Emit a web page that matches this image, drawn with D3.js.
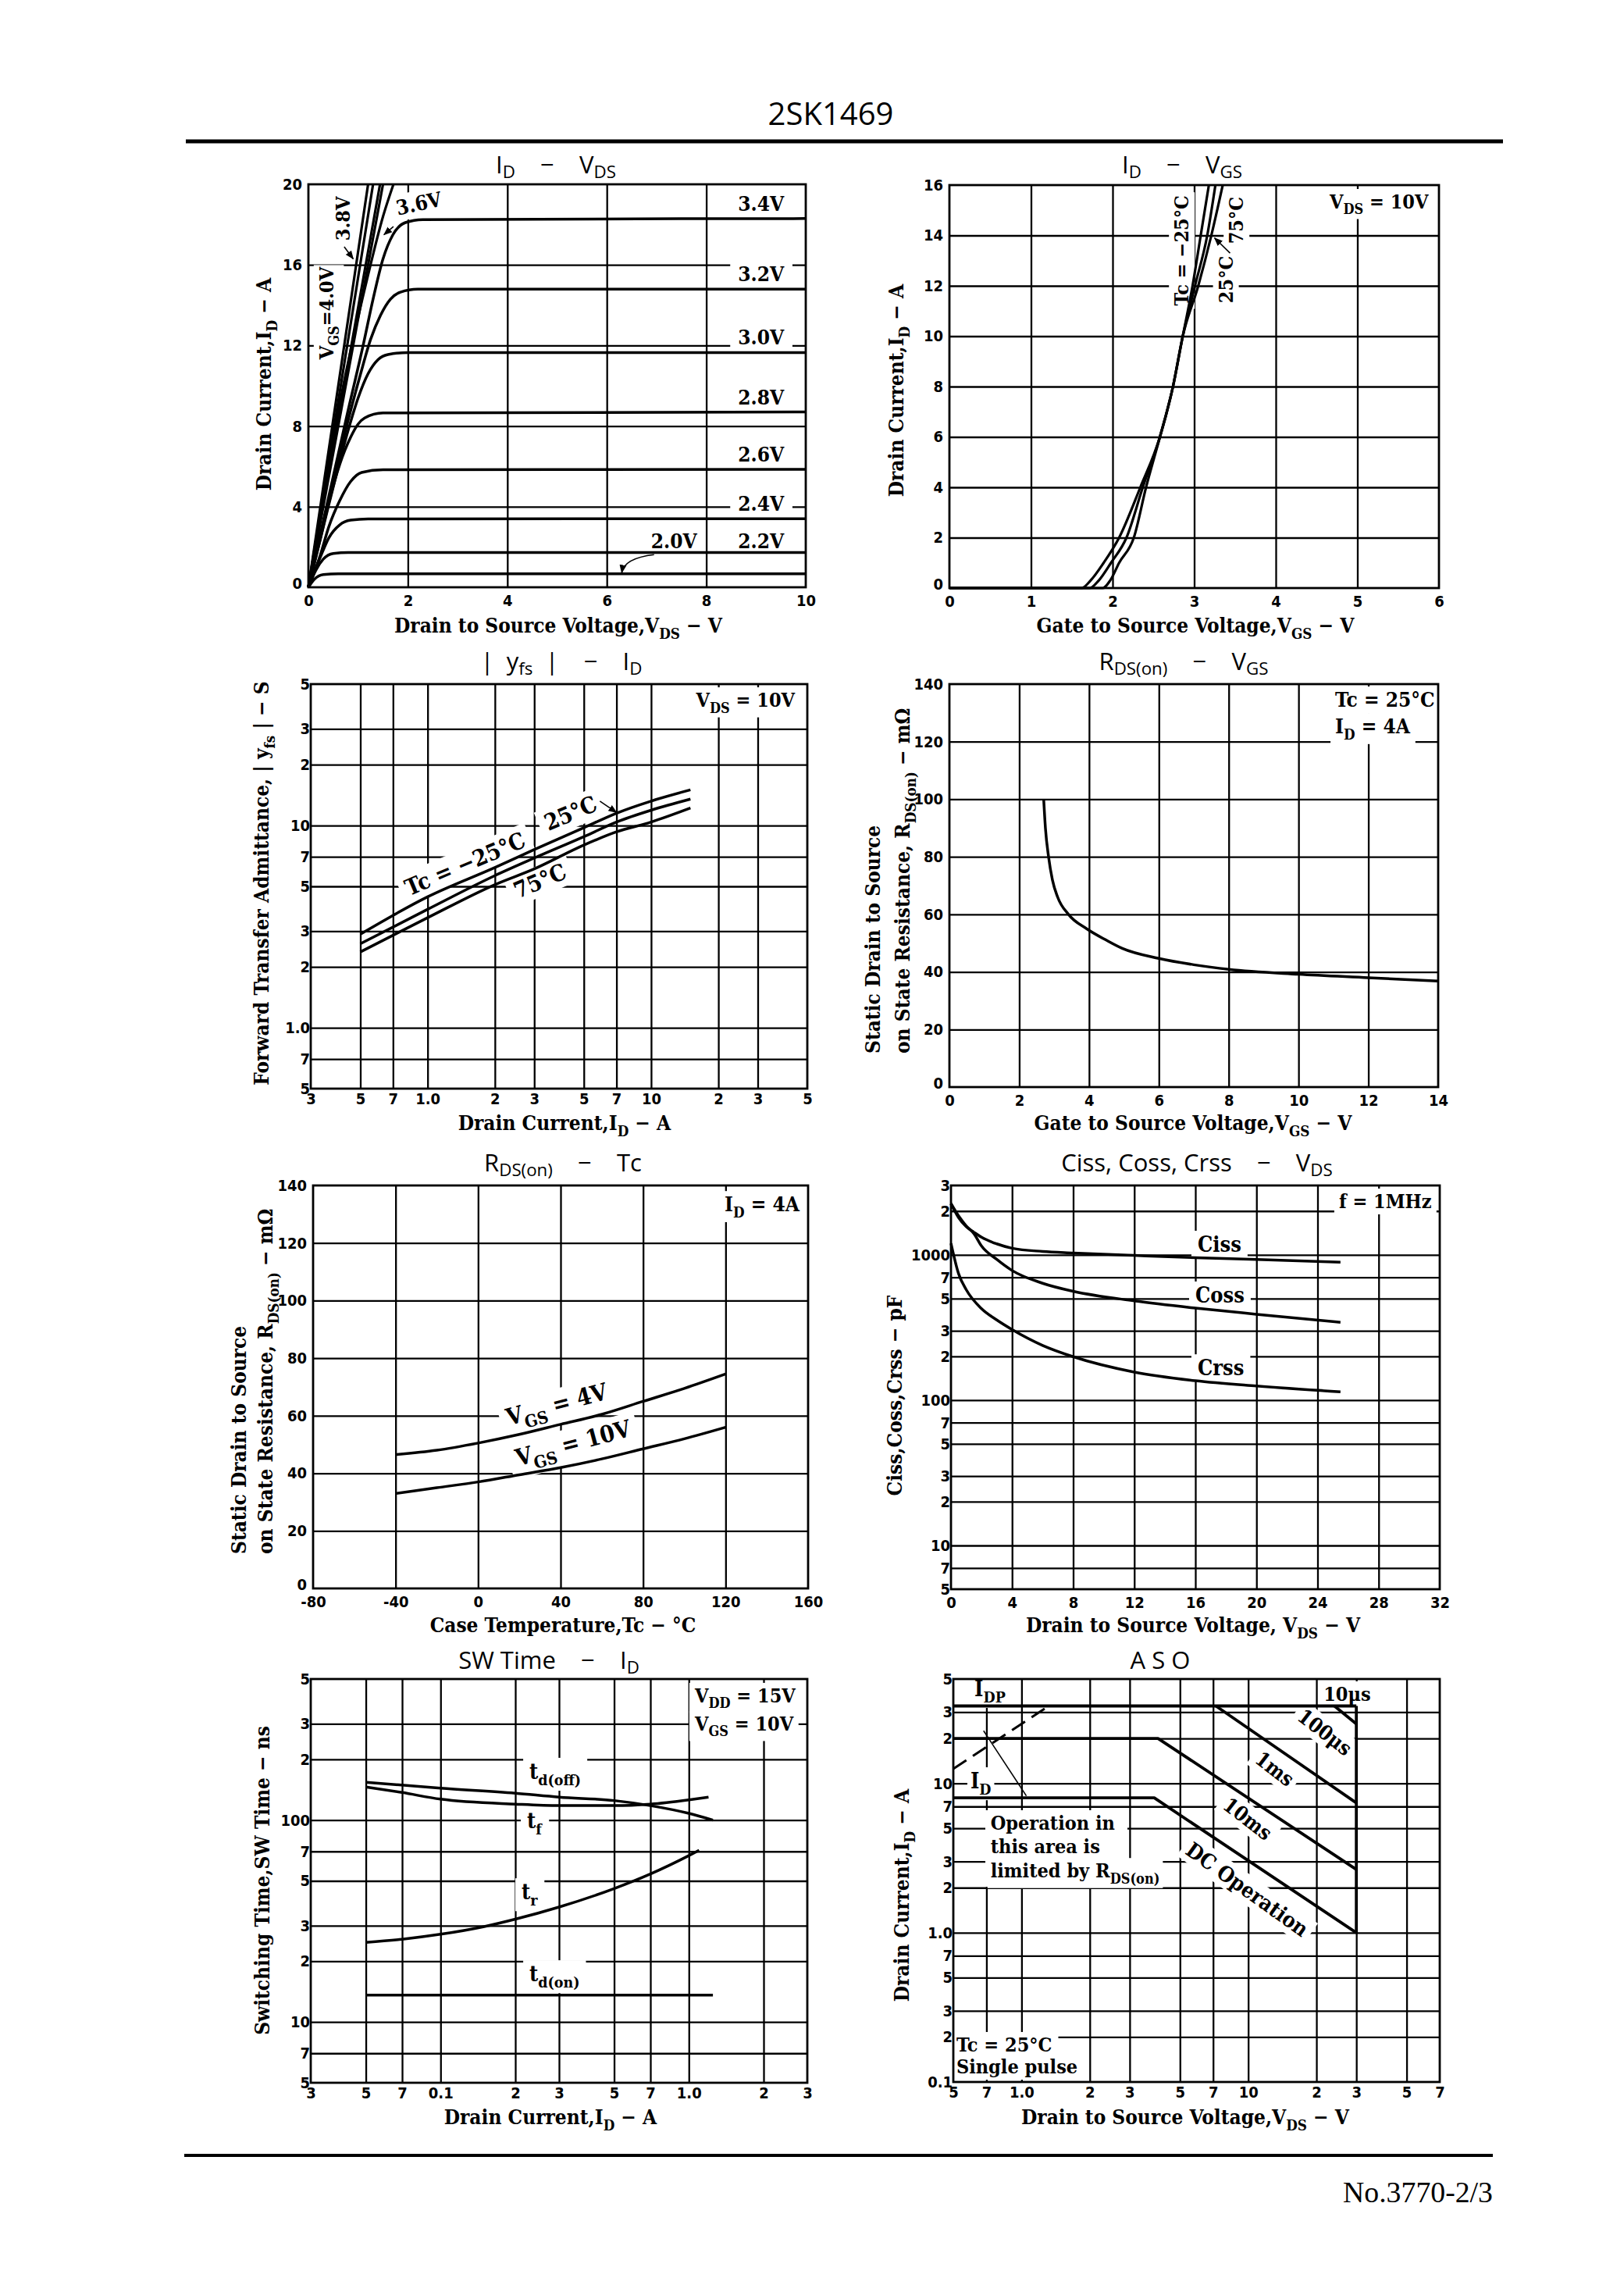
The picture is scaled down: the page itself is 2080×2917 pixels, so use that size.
<!DOCTYPE html>
<html>
<head>
<meta charset="utf-8">
<script src="https://cdn.jsdelivr.net/npm/d3@7"></script>
<style>
  body { margin: 0; background: #fff; }
  text { white-space: pre; }
</style>
</head>
<body>
<script>
// ---------- data ----------

// I_D - V_DS  (points are [V_DS, I_D])
const idVdsLabels = ["3.4V", "3.2V", "3.0V", "2.8V", "2.6V", "2.4V", "2.2V", "2.0V"];
const vgs34 = [[0,0],[0.4,4.4],[0.8,8.8],[1.1,12.0],[1.3,14.3],[1.5,16.3],[1.7,17.5],[1.95,18.1],[2.3,18.25],[10,18.3]];
const vgs32 = [[0,0],[0.4,4.2],[0.8,8.3],[1.05,10.6],[1.25,12.3],[1.45,13.5],[1.65,14.3],[1.85,14.65],[2.2,14.8],[10,14.8]];
const vgs30 = [[0,0],[0.4,4.0],[0.8,7.8],[1.0,9.4],[1.2,10.6],[1.4,11.3],[1.6,11.55],[2.0,11.65],[10,11.65]];
const vgs28 = [[0,0],[0.24,2.4],[0.41,4.2],[0.63,6.1],[0.85,7.45],[1.0,8.1],[1.13,8.4],[1.5,8.65],[10,8.7]];
const vgs26 = [[0,0],[0.24,1.6],[0.41,3.0],[0.63,4.3],[0.85,5.25],[1.07,5.7],[1.5,5.83],[10,5.85]];
const vgs24 = [[0,0],[0.24,1.5],[0.41,2.45],[0.63,3.1],[0.85,3.33],[1.2,3.39],[10,3.4]];
const vgs22 = [[0,0],[0.15,0.85],[0.3,1.4],[0.5,1.68],[0.8,1.72],[10,1.72]];
const vgs20 = [[0,0],[0.12,0.4],[0.3,0.63],[0.6,0.67],[10,0.67]];
const idVdsCurves = [vgs34, vgs32, vgs30, vgs28, vgs26, vgs24, vgs22, vgs20];
// steep lines of V_GS = 4.0V ... 3.6V that leave the top of the plot
const steep40 = [[0,0],[0.6,10],[1.2,20]];
const steep39 = [[0,0],[0.65,10],[1.3,20]];
const steep38 = [[0,0],[0.72,10],[1.44,20]];
const steep37 = [[0,0],[0.75,10],[1.5,20]];
const steep36 = [[0,0],[0.62,9],[1.2,15.5],[1.5,18.4],[1.71,20]];
const steepCurves = [steep40, steep39, steep38, steep37, steep36];

// I_D - V_GS  ([V_GS, I_D])
const vgsTcM25 = [[0,0],[1.88,0],[1.97,0.3],[2.08,1],[2.26,2],[2.41,4],[2.58,6],[2.74,8],[2.86,10],[2.98,12],[3.08,14],[3.18,16]];
const vgsTc25 = [[0,0],[1.72,0],[1.83,0.3],[1.98,1],[2.17,2],[2.37,4],[2.58,6],[2.74,8],[2.86,10],[3.01,12],[3.16,14],[3.26,16]];
const vgsTc75 = [[0,0],[1.62,0],[1.73,0.3],[1.89,1],[2.08,2],[2.34,4],[2.58,6],[2.74,8],[2.86,10],[3.05,12],[3.21,14],[3.35,16]];

// |yfs| - I_D  ([I_D, |yfs|])
const yfsM25 = [[0.5,2.9],[1,4.44],[2,6.2],[3,7.6],[5,9.75],[7,11.5],[10,13.2],[15,15]];
const yfs25 = [[0.5,2.6],[1,3.85],[2,5.65],[3,6.9],[5,8.8],[7,10.4],[10,11.9],[15,13.5]];
const yfs75 = [[0.5,2.37],[1,3.5],[2,5.1],[3,6.1],[5,8.0],[7,9.3],[10,10.4],[15,12.2]];
const logTicks = ["3","5","7","1.0","2","3","5","7","10","2","3","5"];
const yfsXTicks = [0.3,0.5,0.7,1,2,3,5,7,10,20,30,50];
const yfsYTicks = [0.5,0.7,1,2,3,5,7,10,20,30,50];
const yfsYLabels = ["5","7","1.0","2","3","5","7","10","2","3","5"];

// R_DS(on) - V_GS  ([V_GS, mOhm])
const rdsVgs = [[2.7,100],[2.75,90],[2.84,80],[2.95,72],[3.1,66],[3.41,60],[3.93,55],[4.5,51],[4.95,48.2],[6,44.7],[7,42.5],[8,40.9],[10,39.2],[12,38],[14,36.8]];

// R_DS(on) - Tc  ([Tc, mOhm])
const rdsTcVgs4 = [[-40,46.5],[-20,48],[0,50.5],[20,53.5],[40,57],[60,60.5],[80,65],[100,69.5],[120,74.5]];
const rdsTcVgs10 = [[-40,33],[-20,35],[0,37],[20,39.5],[40,42],[60,45],[80,48.5],[100,52],[120,56]];

// Ciss, Coss, Crss - V_DS  ([V_DS, pF])
const ciss = [[0,2250],[0.5,1800],[1,1560],[1.5,1430],[2,1320],[3,1190],[4,1110],[6,1055],[8,1030],[12,990],[16,955],[20,930],[25.5,890]];
const coss = [[0,2250],[0.5,1850],[1,1580],[1.5,1400],[2,1150],[3,930],[4,780],[6,637],[8,561],[12,482],[16,430],[20,390],[25.5,343]];
const crss = [[0,1200],[0.5,740],[1,575],[2,426],[3,356],[4,306],[6,238],[8,199],[12,156],[16,136],[20,125],[25.5,114]];
const capYTicks = [5,7,10,20,30,50,70,100,200,300,500,700,1000,2000,3000];
const capYLabels = ["5","7","10","2","3","5","7","100","2","3","5","7","1000","2","3"];

// SW time - I_D  ([I_D, ns])
const tdOff = [[0.05,154],[0.1,144],[0.2,136],[0.3,130],[0.5,125],[0.7,118],[1.0,108],[1.25,100]];
const tFall = [[0.05,146],[0.07,137],[0.1,127],[0.2,120],[0.3,118],[0.5,118],[0.7,120],[1.0,126],[1.2,130]];
const tRise = [[0.05,24.8],[0.07,25.7],[0.1,27.2],[0.15,29.7],[0.2,32.3],[0.3,37.1],[0.5,45.8],[0.7,54.1],[1.0,66.7],[1.1,70.9]];
const tdOn = [[0.05,13.6],[1.25,13.6]];
const swXTicks = [0.03,0.05,0.07,0.1,0.2,0.3,0.5,0.7,1,2,3];
const swXLabels = ["3","5","7","0.1","2","3","5","7","1.0","2","3"];
const swYTicks = [5,7,10,20,30,50,70,100,200,300,500];
const swYLabels = ["5","7","10","2","3","5","7","100","2","3","5"];

// ASO  ([V_DS, I_D])
const asoIdp = [[0.5,33],[30,33]];
const aso10us = [[24,33],[30,25]];
const aso1ms = [[7.2,33],[30,7.4]];
const aso10ms = [[0.5,20],[4.0,20],[30,2.65]];
const asoDC = [[0.5,8],[3.85,8],[30,1.0]];
const asoVdss = [[30,33],[30,1.0]];
const asoRds = [[0.5,12.5],[1.32,33]];
const asoXTicks = [0.5,0.7,1,2,3,5,7,10,20,30,50,70];
const asoXLabels = ["5","7","1.0","2","3","5","7","10","2","3","5","7"];
const asoYTicks = [0.1,0.2,0.3,0.5,0.7,1,2,3,5,7,10,20,30,50];
const asoYLabels = ["0.1","2","3","5","7","1.0","2","3","5","7","10","2","3","5"];

// ---------- drawing ----------
const serif = "'DejaVu Serif Condensed','DejaVu Serif',serif";
const numFont = "'DejaVu Sans Condensed','DejaVu Sans',sans-serif";
const titleFont = "'Open Sans','DejaVu Sans',sans-serif";

const svg = d3.select("body").append("svg")
    .attr("width", 2080).attr("height", 2917)
    .style("display", "block");
svg.append("rect").attr("width", 2080).attr("height", 2917).attr("fill", "#fff");

svg.append("defs").append("marker")
    .attr("id", "arr").attr("viewBox", "0 0 10 10")
    .attr("refX", 9).attr("refY", 5)
    .attr("markerWidth", 7).attr("markerHeight", 7)
    .attr("orient", "auto")
  .append("path").attr("d", "M0,1 L10,5 L0,9 z").attr("fill", "#000");

// text with subscripts: plain strings, or [str] for a subscript
const rich = (t, parts, fs, shift = 0.3) => {
    let down = false;
    parts.forEach(p => {
        const sub = Array.isArray(p);
        const ts = t.append("tspan").text(sub ? p[0] : p);
        if (sub) {
            ts.attr("font-size", fs * 0.72);
            if (!down) { ts.attr("dy", fs * shift); down = true; }
        } else if (down) {
            ts.attr("dy", -fs * shift);
            down = false;
        }
    });
};

// o.box = white padding behind the text, so grid lines stop short of it
const label = (parent, x, y, parts, o = {}) => {
    const fs = o.fs || 24;
    const g = parent.append("g")
        .attr("transform", `translate(${x},${y}) rotate(${o.rot || 0})`);
    const t = g.append("text")
        .attr("font-family", o.font || serif)
        .attr("font-size", fs)
        .attr("font-weight", o.weight || "bold")
        .attr("text-anchor", o.anchor || "middle")
        .attr("fill", "#000");
    if (o.mid) t.attr("dy", "0.35em");
    rich(t, parts, fs, o.sub);
    if (o.box) {
        const b = t.node().getBBox();
        g.insert("rect", "text")
            .attr("x", b.x - o.box).attr("y", b.y - 2)
            .attr("width", b.width + 2 * o.box).attr("height", b.height + 4)
            .attr("fill", "#fff");
    }
    return t;
};

const drawChart = c => {
    const [x0, x1, y0, y1] = c.box;
    const g = svg.append("g");
    const x = (c.xLog ? d3.scaleLog() : d3.scaleLinear()).domain(c.xDomain).range([x0, x1]);
    const y = (c.yLog ? d3.scaleLog() : d3.scaleLinear()).domain(c.yDomain).range([y1, y0]);

    const grid = g.append("g");
    grid.append("g").attr("transform", `translate(0,${y1})`)
        .call(d3.axisBottom(x).tickValues(c.xGrid).tickSize(-(y1 - y0)).tickFormat(""));
    grid.append("g").attr("transform", `translate(${x0},0)`)
        .call(d3.axisLeft(y).tickValues(c.yGrid).tickSize(-(x1 - x0)).tickFormat(""));
    grid.selectAll(".domain").remove();
    grid.selectAll("line").attr("stroke", "#000").attr("stroke-width", 2.3);

    const labels = g.append("g");
    const curves = g.append("g");

    g.append("rect")
        .attr("x", x0).attr("y", y0).attr("width", x1 - x0).attr("height", y1 - y0)
        .attr("fill", "none").attr("stroke", "#000").attr("stroke-width", 2.8);

    const xt = g.append("g").attr("transform", `translate(0,${y1})`)
        .call(d3.axisBottom(x).tickValues(c.xTicks).tickFormat((d, i) => c.xLabels[i])
            .tickSize(0).tickPadding(c.xLog ? 6 : 10));
    const yt = g.append("g").attr("transform", `translate(${x0},0)`)
        .call(d3.axisLeft(y).tickValues(c.yTicks).tickFormat((d, i) => c.yLabels[i])
            .tickSize(0).tickPadding(c.yLog ? 1 : 8));
    [xt, yt].forEach(a => {
        a.select(".domain").remove();
        a.selectAll("text")
            .attr("font-family", numFont).attr("font-size", 20)
            .attr("font-weight", "bold").attr("fill", "#000");
    });
    // bottom-left y label sits a little higher so it clears the x label
    if (!c.yLog) yt.selectAll("text").filter((d, i) => i === 0).attr("dy", "0.05em");

    // title, axis names
    label(svg, c.title[0], c.title[1], c.title[2], { font: titleFont, fs: 31, weight: "normal", sub: 0.18 });
    label(svg, c.xName[0], c.xName[1], c.xName[2], { fs: 26 });
    c.yName.forEach(n => label(svg, n[0], n[1], n[2], { fs: 26, rot: -90, anchor: n[3] || "middle" }));

    return { g, x, y, labels, curves };
};

const curve = (c, data, o = {}) => c.curves.append("path")
    .datum(data)
    .attr("d", d3.line().x(d => c.x(d[0])).y(d => c.y(d[1])).curve(o.curve || d3.curveMonotoneX))
    .attr("fill", "none")
    .attr("stroke", "#000")
    .attr("stroke-width", o.width || 3.5)
    .attr("stroke-dasharray", o.dash || null)
    .attr("stroke-linejoin", "round");

const leader = (c, a, b, arrow) => c.curves.append("line")
    .attr("x1", c.x(a[0])).attr("y1", c.y(a[1]))
    .attr("x2", c.x(b[0])).attr("y2", c.y(b[1]))
    .attr("stroke", "#000").attr("stroke-width", 1.6)
    .attr("marker-end", arrow ? "url(#arr)" : null);

const range = (a, b, s) => d3.range(a, b + s / 2, s);

// ---------- header / footer ----------
label(svg, 1064, 160, ["2SK1469"], { font: titleFont, fs: 40, weight: "normal" });
svg.append("line").attr("x1", 238).attr("x2", 1925).attr("y1", 181).attr("y2", 181)
    .attr("stroke", "#000").attr("stroke-width", 5);
svg.append("line").attr("x1", 236).attr("x2", 1912).attr("y1", 2760).attr("y2", 2760)
    .attr("stroke", "#000").attr("stroke-width", 4);
label(svg, 1912, 2820, ["No.3770-2/3"], { font: "'Liberation Serif',serif", fs: 38, weight: "normal", anchor: "end" })
    .attr("textLength", 192).attr("lengthAdjust", "spacingAndGlyphs");

// ---------- 1: I_D - V_DS ----------
const c1 = drawChart({
    box: [395, 1032, 236, 752],
    xDomain: [0, 10], yDomain: [0, 20],
    xGrid: range(2, 8, 2), yGrid: range(4, 16, 4),
    xTicks: range(0, 10, 2), xLabels: range(0, 10, 2).map(String),
    yTicks: range(0, 20, 4), yLabels: range(0, 20, 4).map(String),
    title: [712, 222, ["I", ["D"], "    −    V", ["DS"]]],
    xName: [715, 810, ["Drain to Source Voltage,V", ["DS"], " − V"]],
    yName: [[347, 492, ["Drain Current,I", ["D"], " − A"]]]
});
idVdsCurves.forEach(d => curve(c1, d));
steepCurves.forEach(d => curve(c1, d, { width: 3.2 }));
idVdsLabels.forEach((t, i) => {
    const last = idVdsCurves[i][idVdsCurves[i].length - 1][1];
    if (i < 7) label(c1.labels, c1.x(9.1), c1.y(last) - (i === 6 ? 6 : 10), [t], { fs: 26, box: 10 });
});
label(c1.labels, c1.x(7.35), c1.y(1.72) - 6, [idVdsLabels[7]], { fs: 26, box: 8 });
c1.curves.append("path")
    .attr("d", `M${c1.x(6.95)},${c1.y(1.62)} Q${c1.x(6.35)},${c1.y(1.45)} ${c1.x(6.3)},${c1.y(0.72)}`)
    .attr("fill", "none").attr("stroke", "#000").attr("stroke-width", 1.6).attr("marker-end", "url(#arr)");
label(c1.labels, c1.x(0.5), c1.y(13.6), ["V", ["GS"], "=4.0V"], { fs: 25, rot: -90, box: 2 });
label(c1.labels, c1.x(0.83), c1.y(18.3), ["3.8V"], { fs: 25, rot: -90, box: 2 });
label(c1.labels, c1.x(2.25), c1.y(18.7), ["3.6V"], { fs: 26, rot: -12, box: 2 });
leader(c1, [1.71, 17.9], [1.52, 17.5], true);
leader(c1, [0.72, 16.9], [0.9, 16.3], true);

// ---------- 2: I_D - V_GS ----------
const c2 = drawChart({
    box: [1216, 1843, 237, 753],
    xDomain: [0, 6], yDomain: [0, 16],
    xGrid: range(1, 5, 1), yGrid: range(2, 14, 2),
    xTicks: range(0, 6, 1), xLabels: range(0, 6, 1).map(String),
    yTicks: range(0, 16, 2), yLabels: range(0, 16, 2).map(String),
    title: [1514, 222, ["I", ["D"], "    −    V", ["GS"]]],
    xName: [1531, 810, ["Gate to Source Voltage,V", ["GS"], " − V"]],
    yName: [[1157, 500, ["Drain Current,I", ["D"], " − A"]]]
});
[vgsTcM25, vgsTc25, vgsTc75].forEach(d => curve(c2, d, { width: 3.2 }));
label(c2.labels, c2.x(4.66), c2.y(15.07), ["V", ["DS"], " = 10V"], { fs: 25, anchor: "start", box: 6 });
label(c2.labels, c2.x(2.93), c2.y(13.4), ["Tc = −25°C"], { fs: 25, rot: -90, box: 4 });
label(c2.labels, c2.x(3.6), c2.y(14.6), ["75°C"], { fs: 25, rot: -90, box: 4 });
label(c2.labels, c2.x(3.47), c2.y(12.25), ["25°C"], { fs: 25, rot: -90, box: 4 });
leader(c2, [3.44, 13.3], [3.25, 13.9], true);

// ---------- 3: |yfs| - I_D ----------
const c3 = drawChart({
    box: [398, 1034, 876, 1394],
    xLog: true, yLog: true,
    xDomain: [0.3, 50], yDomain: [0.5, 50],
    xGrid: yfsXTicks.slice(1, -1), yGrid: yfsYTicks.slice(1, -1),
    xTicks: yfsXTicks, xLabels: logTicks,
    yTicks: yfsYTicks, yLabels: yfsYLabels,
    title: [719, 858, ["|  y", ["fs"], "  |    −    I", ["D"]]],
    xName: [723, 1447, ["Drain Current,I", ["D"], " − A"]],
    yName: [[344, 1131, ["Forward Transfer Admittance, | y", ["fs"], " | − S"]]]
});
[yfsM25, yfs25, yfs75].forEach(d => curve(c3, d));
label(c3.labels, c3.x(15.9), c3.y(38.6), ["V", ["DS"], " = 10V"], { fs: 25, anchor: "start", box: 6 });
label(c3.labels, c3.x(1.47), c3.y(6.47), ["Tc = −25°C"], { fs: 29, rot: -23, mid: true, box: 8 });
label(c3.labels, c3.x(4.36), c3.y(11.5), ["25°C"], { fs: 29, rot: -23, mid: true, box: 8 });
label(c3.labels, c3.x(3.18), c3.y(5.32), ["75°C"], { fs: 29, rot: -23, mid: true, box: 8 });
leader(c3, [5.9, 13.2], [7.0, 11.6], true);

// ---------- 4: R_DS(on) - V_GS ----------
const c4 = drawChart({
    box: [1216, 1842, 876, 1392],
    xDomain: [0, 14], yDomain: [0, 140],
    xGrid: range(2, 12, 2), yGrid: range(20, 120, 20),
    xTicks: range(0, 14, 2), xLabels: range(0, 14, 2).map(String),
    yTicks: range(0, 140, 20), yLabels: range(0, 140, 20).map(String),
    title: [1516, 858, ["R", ["DS(on)"], "    −    V", ["GS"]]],
    xName: [1528, 1447, ["Gate to Source Voltage,V", ["GS"], " − V"]],
    yName: [
        [1127, 1349, ["Static Drain to Source"], "start"],
        [1165, 1349, ["on State Resistance, R", ["DS(on)"], " − mΩ"], "start"]
    ]
});
curve(c4, rdsVgs);
label(c4.labels, c4.x(11.05), c4.y(132.1), ["Tc = 25°C"], { fs: 26, anchor: "start", box: 6 });
label(c4.labels, c4.x(11.05), c4.y(122.9), ["I", ["D"], " = 4A"], { fs: 26, anchor: "start", box: 6 });

// ---------- 5: R_DS(on) - Tc ----------
const c5 = drawChart({
    box: [401, 1035, 1518, 2034],
    xDomain: [-80, 160], yDomain: [0, 140],
    xGrid: range(-40, 120, 40), yGrid: range(20, 120, 20),
    xTicks: range(-80, 160, 40), xLabels: range(-80, 160, 40).map(String),
    yTicks: range(0, 140, 20), yLabels: range(0, 140, 20).map(String),
    title: [721, 1500, ["R", ["DS(on)"], "    −    Tc"]],
    xName: [721, 2090, ["Case Temperature,Tc − °C"]],
    yName: [
        [315, 1990, ["Static Drain to Source"], "start"],
        [349, 1990, ["on State Resistance, R", ["DS(on)"], " − mΩ"], "start"]
    ]
});
curve(c5, rdsTcVgs4);
curve(c5, rdsTcVgs10);
label(c5.labels, c5.x(119.5), c5.y(131), ["I", ["D"], " = 4A"], { fs: 26, anchor: "start", box: 6 });
label(c5.labels, c5.x(38.1), c5.y(64), ["V", ["GS"], " = 4V"], { fs: 30, rot: -15, mid: true, box: 8 });
label(c5.labels, c5.x(46), c5.y(50.5), ["V", ["GS"], " = 10V"], { fs: 30, rot: -15, mid: true, box: 8 });

// ---------- 6: Ciss, Coss, Crss - V_DS ----------
const c6 = drawChart({
    box: [1218, 1844, 1518, 2035],
    yLog: true,
    xDomain: [0, 32], yDomain: [5, 3000],
    xGrid: range(4, 28, 4), yGrid: capYTicks.slice(1, -1),
    xTicks: range(0, 32, 4), xLabels: range(0, 32, 4).map(String),
    yTicks: capYTicks, yLabels: capYLabels,
    title: [1533, 1500, ["Ciss, Coss, Crss    −    V", ["DS"]]],
    xName: [1528, 2090, ["Drain to Source Voltage, V", ["DS"], " − V"]],
    yName: [[1155, 1787, ["Ciss,Coss,Crss − pF"]]]
});
[ciss, coss, crss].forEach(d => curve(c6, d));
label(c6.labels, c6.x(25.4), c6.y(2096), ["f = 1MHz"], { fs: 25, anchor: "start", box: 6 });
label(c6.labels, c6.x(16.15), c6.y(1048), ["Ciss"], { anchor: "start", box: 8, fs: 27 });
label(c6.labels, c6.x(16.0), c6.y(469), ["Coss"], { anchor: "start", box: 8, fs: 27 });
label(c6.labels, c6.x(16.15), c6.y(148), ["Crss"], { anchor: "start", box: 8, fs: 27 });

// ---------- 7: SW time - I_D ----------
const c7 = drawChart({
    box: [398, 1034, 2150, 2667],
    xLog: true, yLog: true,
    xDomain: [0.03, 3], yDomain: [5, 500],
    xGrid: swXTicks.slice(1, -1), yGrid: swYTicks.slice(1, -1),
    xTicks: swXTicks, xLabels: swXLabels,
    yTicks: swYTicks, yLabels: swYLabels,
    title: [703, 2137, ["SW Time    −    I", ["D"]]],
    xName: [705, 2720, ["Drain Current,I", ["D"], " − A"]],
    yName: [[345, 2408, ["Switching Time,SW Time − ns"]]]
});
[tdOff, tFall, tRise, tdOn].forEach(d => curve(c7, d));
label(c7.labels, c7.x(1.057), c7.y(383), ["V", ["DD"], " = 15V"], { fs: 25, anchor: "start", box: 6 });
label(c7.labels, c7.x(1.057), c7.y(278), ["V", ["GS"], " = 10V"], { fs: 25, anchor: "start", box: 6 });
label(c7.labels, c7.x(0.228), c7.y(160), ["t", ["d(off)"]], { fs: 27, anchor: "start", box: 8 });
label(c7.labels, c7.x(0.223), c7.y(91.2), ["t", ["f"]], { fs: 27, anchor: "start", box: 8 });
label(c7.labels, c7.x(0.212), c7.y(40.5), ["t", ["r"]], { fs: 27, anchor: "start", box: 8 });
label(c7.labels, c7.x(0.228), c7.y(15.9), ["t", ["d(on)"]], { fs: 27, anchor: "start", box: 8 });

// ---------- 8: ASO ----------
const c8 = drawChart({
    box: [1221, 1844, 2150, 2666],
    xLog: true, yLog: true,
    xDomain: [0.5, 70], yDomain: [0.1, 50],
    xGrid: asoXTicks.slice(1, -1), yGrid: asoYTicks.slice(1, -1),
    xTicks: asoXTicks, xLabels: asoXLabels,
    yTicks: asoYTicks, yLabels: asoYLabels,
    title: [1486, 2137, ["A S O"]],
    xName: [1518, 2720, ["Drain to Source Voltage,V", ["DS"], " − V"]],
    yName: [[1164, 2427, ["Drain Current,I", ["D"], " − A"]]]
});
const lin = { curve: d3.curveLinear, width: 3.8 };
[asoIdp, aso10us, aso1ms, aso10ms, asoDC, asoVdss].forEach(d => curve(c8, d, lin));
curve(c8, asoRds, { curve: d3.curveLinear, width: 3, dash: "20,10" });
leader(c8, [1.05, 8.25], [0.68, 22.5], false);
const aso = Math.atan2(c8.y(1) - c8.y(8), c8.x(30) - c8.x(3.85)) * 180 / Math.PI;
c8.labels.append("rect")
    .attr("x", 1262).attr("y", 2318).attr("width", 182).attr("height", 98).attr("fill", "#fff");
label(c8.labels, c8.x(0.62), c8.y(38.4), ["I", ["DP"]], { fs: 27, anchor: "start", box: 4 });
label(c8.labels, c8.x(21.5), c8.y(35.7), ["10μs"], { fs: 25, anchor: "start", box: 4 });
label(c8.labels, c8.x(21.8), c8.y(22.0), ["100μs"], { fs: 26, rot: aso + 4, mid: true, box: 6 });
label(c8.labels, c8.x(13.1), c8.y(12.5), ["1ms"], { fs: 26, rot: aso + 4, mid: true, box: 6 });
label(c8.labels, c8.x(9.95), c8.y(5.79), ["10ms"], { fs: 26, rot: aso + 4, mid: true, box: 6 });
label(c8.labels, c8.x(9.9), c8.y(1.95), ["DC Operation"], { fs: 27, rot: aso + 2, mid: true, box: 6 });
label(c8.labels, c8.x(0.595), c8.y(9.26), ["I", ["D"]], { fs: 27, anchor: "start", box: 4 });
label(c8.labels, c8.x(0.73), c8.y(4.89), ["Operation in"], { fs: 25, anchor: "start", box: 4 });
label(c8.labels, c8.x(0.73), c8.y(3.40), ["this area is"], { fs: 25, anchor: "start", box: 4 });
label(c8.labels, c8.x(0.73), c8.y(2.34), ["limited by R", ["DS(on)"]], { fs: 25, anchor: "start", box: 4 });
label(c8.labels, c8.x(0.516), c8.y(0.16), ["Tc = 25°C"], { fs: 25, anchor: "start", box: 8 });
label(c8.labels, c8.x(0.516), c8.y(0.114), ["Single pulse"], { fs: 25, anchor: "start", box: 8 });
</script>
</body>
</html>
